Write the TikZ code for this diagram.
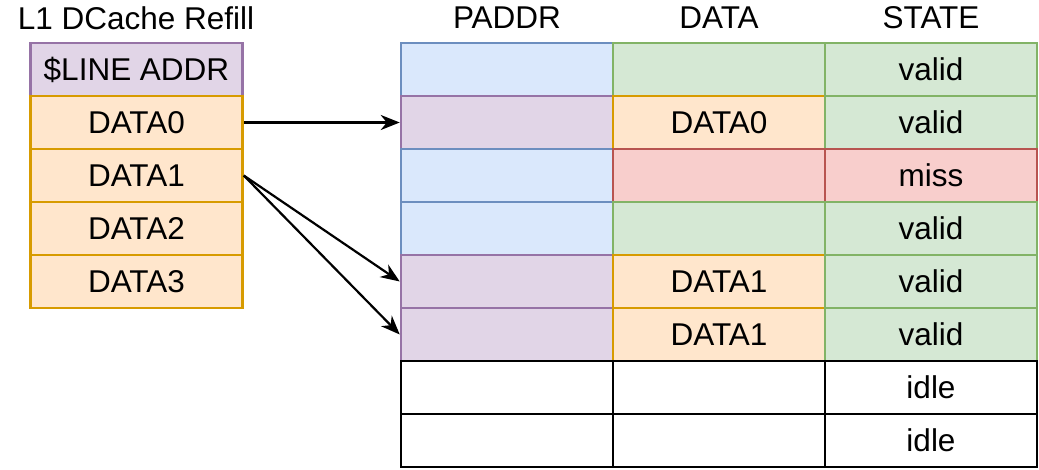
\documentclass[tikz,border=0pt]{standalone}
\usepackage{fontspec}
\setmainfont{Liberation Sans}
\usepackage{xcolor}
\usetikzlibrary{arrows.meta}

\definecolor{bluefill}{HTML}{DAE8FC}
\definecolor{blueline}{HTML}{6C8EBF}
\definecolor{greenfill}{HTML}{D5E8D4}
\definecolor{greenline}{HTML}{82B366}
\definecolor{purplefill}{HTML}{E1D5E7}
\definecolor{purpleline}{HTML}{9673A6}
\definecolor{orangefill}{HTML}{FFE6CC}
\definecolor{orangeline}{HTML}{D79B00}
\definecolor{redfill}{HTML}{F8CECC}
\definecolor{redline}{HTML}{B85450}
\definecolor{whitefill}{HTML}{FFFFFF}
\definecolor{whiteline}{HTML}{000000}

\tikzset{
  txt/.style={font=\fontsize{31.5}{38}\selectfont},
  cell/.style={txt,draw=#1line,fill=#1fill,line width=2.5pt,
    minimum width=212pt,minimum height=53pt,inner sep=0pt},
  link/.style={-{Stealth[length=19pt,width=15pt,inset=6pt]},line width=2.2pt}
}

\begin{document}
\begin{tikzpicture}[x=1pt,y=-1pt]
\useasboundingbox (0,0) rectangle (1039,469);

\node[txt] (title) at (136,18) {L1 DCache Refill};
\node[txt] (hpaddr) at (507,18) {PADDR};
\node[txt] (hdata) at (719,18) {DATA};
\node[txt] (hstate) at (931,18) {STATE};

\node[cell=purple] (addr) at (136.5,69.5) {\$LINE ADDR};
\foreach \i in {0,...,3}{
\node[cell=orange] (ld\i) at (136.5,{122.5+53*\i}) {DATA\i};
}

\foreach \i/\pa/\da/\st/\dt/\sl in {
  1/blue/green/green/{}/valid,
  2/purple/orange/green/DATA0/valid,
  3/blue/red/red/{}/miss,
  4/blue/green/green/{}/valid,
  5/purple/orange/green/DATA1/valid,
  6/purple/orange/green/DATA1/valid,
  7/white/white/white/{}/idle,
  8/white/white/white/{}/idle}{
\node[cell=\pa] (p\i) at (507,{43+53*(\i-0.5)}) {};
\node[cell=\da] (d\i) at (719,{43+53*(\i-0.5)}) {\dt};
\node[cell=\st] (s\i) at (931,{43+53*(\i-0.5)}) {\sl};
}

\draw[link] (ld0.east) -- (p2.west);
\draw[link] (ld1.east) -- (p5.west);
\draw[link] (ld1.east) -- (p6.west);
\end{tikzpicture}
\end{document}
